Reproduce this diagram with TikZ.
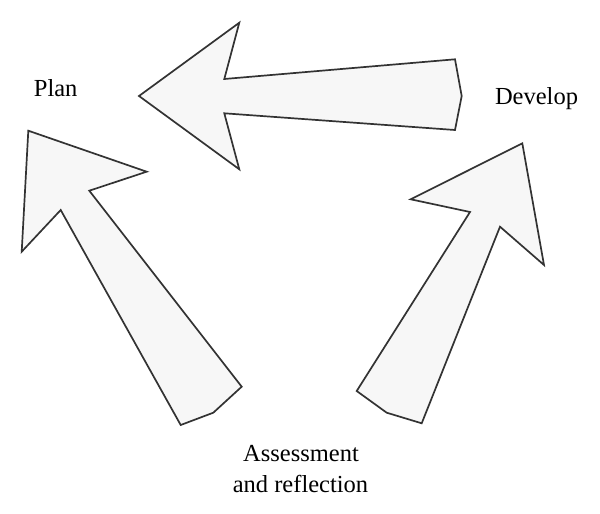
\documentclass[tikz,border=0pt]{standalone}
\usepackage{fontspec}
\setmainfont{Liberation Serif}
\usepackage{tikz}
\usepackage{xcolor}

\definecolor{arrowfill}{HTML}{F7F7F7}
\definecolor{arrowline}{HTML}{333333}

\begin{document}
\begin{tikzpicture}[x=1pt, y=-1pt,
    bigarrow/.style={draw=arrowline, fill=arrowfill, line width=1.7pt, line join=miter},
    lbl/.style={font=\fontsize{24.5}{31}\selectfont, anchor=base, inner sep=0pt}]
    \useasboundingbox (0,0) rectangle (600,514);

    % Flecha superior (Develop -> Plan)
    \draw[bigarrow] (139,96) -- (239.3,22.7) -- (224.3,79) -- (455,59.3) -- (461.7,96)
        -- (455,130) -- (224.3,113.3) -- (239.3,169.3) -- cycle;

    % Flecha esquerda (Assessment -> Plan)
    \draw[bigarrow] (28.3,130.7) -- (146.7,171.7) -- (89.3,190.7) -- (241.7,386.7)
        -- (213.3,412.7) -- (180.7,425) -- (60.7,210) -- (21.7,251.7) -- cycle;

    % Flecha direita (Assessment -> Develop)
    \draw[bigarrow] (522.3,143.3) -- (544,265) -- (500,226.7) -- (421.7,423.3)
        -- (386.7,412.7) -- (356.7,391) -- (470,212) -- (410.7,199.3) -- cycle;

    % Rotulos
    \node[lbl] (plan) at (55.7,96) {Plan};
    \node[lbl] (develop) at (536.5,104) {Develop};
    \node[lbl] (assess) at (301,461.7) {Assessment};
    \node[lbl] (reflect) at (300.5,492.7) {and reflection};
\end{tikzpicture}
\end{document}
